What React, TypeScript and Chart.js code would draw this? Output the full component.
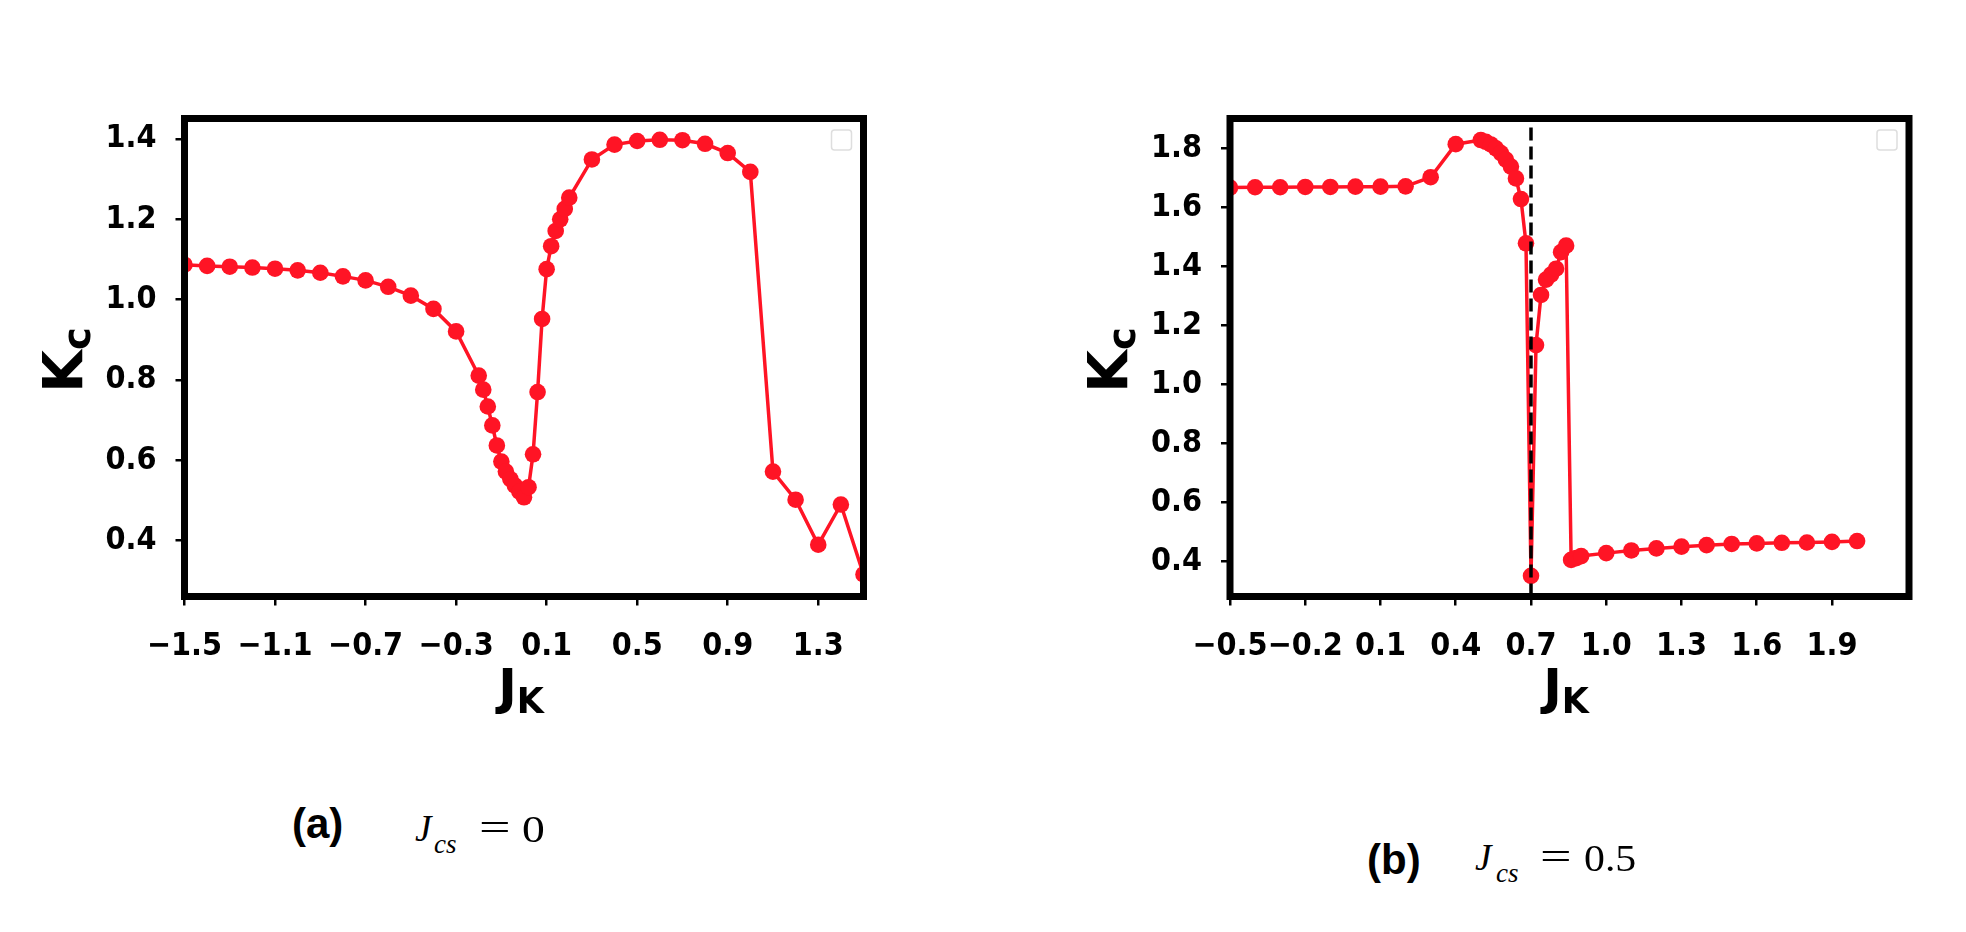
import React, { useEffect, useRef } from "react";
import { Chart, registerables } from "chart.js";

Chart.register(...registerables);

// ---------------- data ----------------
const JK_A = [
  -1.5, -1.4, -1.3, -1.2, -1.1, -1.0, -0.9, -0.8, -0.7, -0.6, -0.5, -0.4, -0.3,
  -0.2, -0.18, -0.16, -0.14, -0.12, -0.1, -0.08, -0.06, -0.04, -0.02, 0.0, 0.02,
  0.04, 0.06, 0.08, 0.1, 0.12, 0.14, 0.16, 0.18, 0.2, 0.3, 0.4, 0.5, 0.6, 0.7,
  0.8, 0.9, 1.0, 1.1, 1.2, 1.3, 1.4, 1.5,
];
const KC_A = [
  1.087, 1.084, 1.082, 1.08, 1.077, 1.073, 1.067, 1.058, 1.048, 1.032, 1.01, 0.977,
  0.921, 0.811, 0.776, 0.734, 0.687, 0.637, 0.597, 0.572, 0.553, 0.537, 0.522,
  0.508, 0.533, 0.615, 0.77, 0.952, 1.076, 1.133, 1.171, 1.2, 1.226, 1.254, 1.349,
  1.386, 1.395, 1.398, 1.397, 1.388, 1.365, 1.318, 0.572, 0.502, 0.39, 0.49, 0.316,
];
const X_TICKS_A = [-1.5, -1.1, -0.7, -0.3, 0.1, 0.5, 0.9, 1.3];
const Y_TICKS_A = [0.4, 0.6, 0.8, 1.0, 1.2, 1.4];
const X_RANGE_A = [-1.5, 1.5];
const Y_RANGE_A = [0.261, 1.451];

const JK_B = [
  -0.5, -0.4, -0.3, -0.2, -0.1, 0.0, 0.1, 0.2, 0.3, 0.4, 0.5, 0.52, 0.54, 0.56,
  0.58, 0.6, 0.62, 0.64, 0.66, 0.68, 0.7, 0.72, 0.74, 0.76, 0.78, 0.8, 0.82, 0.84,
  0.86, 0.88, 0.9, 1.0, 1.1, 1.2, 1.3, 1.4, 1.5, 1.6, 1.7, 1.8, 1.9, 2.0,
];
const KC_B = [
  1.667, 1.668, 1.668, 1.669, 1.669, 1.67, 1.67, 1.671, 1.702, 1.814, 1.828, 1.822,
  1.813, 1.8, 1.784, 1.762, 1.738, 1.698, 1.628, 1.478, 0.351, 1.133, 1.303, 1.355,
  1.372, 1.392, 1.448, 1.47, 0.405, 0.411, 0.418, 0.428, 0.437, 0.444, 0.45, 0.455,
  0.459, 0.461, 0.463, 0.464, 0.466, 0.469,
];
const X_TICKS_B = [-0.5, -0.2, 0.1, 0.4, 0.7, 1.0, 1.3, 1.6, 1.9];
const Y_TICKS_B = [0.4, 0.6, 0.8, 1.0, 1.2, 1.4, 1.6, 1.8];
const X_RANGE_B = [-0.5, 2.207];
const Y_RANGE_B = [0.281, 1.901];
const DASH_X_B = 0.7;

// ---------------- style ----------------
const RED = "#ff1425";
const TICK_FONT = "'DejaVu Sans Condensed', 'DejaVu Sans', sans-serif";
const LABEL_FONT = "'DejaVu Sans', sans-serif";
const CAP_SANS = "'Liberation Sans', Arial, sans-serif";
const CAP_SERIF = "'Liberation Serif', 'Times New Roman', serif";

const CANVAS_W = 860;
const CANVAS_H = 620;
const CANVAS_TOP = 90;
const PAD_TOP = 28.5;
const X_AXIS_H = 113.5;

const fmt = (v: number) => (v < 0 ? "\u2212" : "") + Math.abs(v).toFixed(1);

type PanelProps = {
  xs: number[];
  ys: number[];
  xr: number[];
  yr: number[];
  xt: number[];
  yt: number[];
  dashX?: number;
  left: number;
  yAxisW: number;
  padRight: number;
};

function Panel(p: PanelProps) {
  const ref = useRef<HTMLCanvasElement>(null);
  useEffect(() => {
    const canvas = ref.current as HTMLCanvasElement;
    const datasets: any[] = [];
    if (p.dashX !== undefined) {
      datasets.push({
        data: [
          { x: p.dashX, y: p.yr[0] },
          { x: p.dashX, y: p.yr[1] },
        ],
        borderColor: "#000",
        borderWidth: 3.5,
        borderDash: [13, 6],
        pointRadius: 0,
        fill: false,
        clip: 0,
        order: 0,
      });
    }
    datasets.push({
      data: p.xs.map((x, i) => ({ x, y: p.ys[i] })),
      borderColor: RED,
      backgroundColor: RED,
      pointBackgroundColor: RED,
      pointBorderColor: RED,
      borderWidth: 3.5,
      pointRadius: 8.3,
      pointHoverRadius: 8.3,
      pointBorderWidth: 0,
      tension: 0,
      fill: false,
      clip: 0,
      order: 1,
    });

    const framePlugin = {
      id: "frame",
      afterDraw(chart: any) {
        const { ctx, chartArea: a } = chart;
        ctx.save();
        ctx.strokeStyle = "#000";
        ctx.lineWidth = 7;
        ctx.strokeRect(a.left, a.top, a.right - a.left, a.bottom - a.top);
        ctx.strokeStyle = "#dedede";
        ctx.lineWidth = 1.5;
        ctx.beginPath();
        if ((ctx as any).roundRect) (ctx as any).roundRect(a.right - 32, a.top + 11.5, 20, 20, 3);
        else ctx.rect(a.right - 32, a.top + 11.5, 20, 20);
        ctx.stroke();
        ctx.restore();
      },
    };

    const tickFont = { family: TICK_FONT, size: 32, weight: "bold" as const };
    const grid = {
      display: true,
      drawOnChartArea: false,
      drawTicks: true,
      tickLength: 9,
      color: "#000",
      lineWidth: 2.5,
    };

    const chart = new Chart(canvas, {
      type: "line",
      data: { datasets },
      options: {
        animation: false,
        responsive: false,
        events: [],
        layout: {
          padding: { top: PAD_TOP, right: p.padRight, left: 0, bottom: 0 },
          autoPadding: false,
        },
        plugins: { legend: { display: false }, tooltip: { enabled: false } },
        scales: {
          x: {
            type: "linear",
            min: p.xr[0],
            max: p.xr[1],
            afterFit: (s: any) => {
              s.height = X_AXIS_H;
              s.paddingLeft = 0;
              s.paddingRight = 0;
            },
            afterBuildTicks: (s: any) => {
              s.ticks = p.xt.map((v) => ({ value: v }));
            },
            ticks: {
              callback: (v: any) => fmt(Number(v)),
              font: tickFont,
              color: "#000",
              padding: 22,
              maxRotation: 0,
              autoSkip: false,
            },
            grid,
            border: { display: false },
          },
          y: {
            type: "linear",
            min: p.yr[0],
            max: p.yr[1],
            afterFit: (s: any) => {
              s.width = p.yAxisW;
              s.paddingTop = 0;
              s.paddingBottom = 0;
            },
            afterBuildTicks: (s: any) => {
              s.ticks = p.yt.map((v) => ({ value: v }));
            },
            ticks: {
              callback: (v: any) => fmt(Number(v)),
              font: tickFont,
              color: "#000",
              padding: 19,
              autoSkip: false,
            },
            grid,
            border: { display: false },
          },
        },
      } as any,
      plugins: [framePlugin],
    });
    return () => chart.destroy();
  }, []);
  return (
    <canvas
      ref={ref}
      width={CANVAS_W}
      height={CANVAS_H}
      style={{
        position: "absolute",
        left: p.left - 8,
        top: CANVAS_TOP - 8,
        width: CANVAS_W,
        height: CANVAS_H,
      }}
    />
  );
}

// text placed by its baseline (page coordinates)
function T(props: {
  x: number;
  y: number;
  size: number;
  family: string;
  weight?: number;
  italic?: boolean;
  middle?: boolean;
  sx?: number;
  children: React.ReactNode;
}) {
  const { x, y, size, family, weight, italic, middle, sx, children } = props;
  let tr = "";
  if (middle) tr += "translateX(-50%) ";
  if (sx) tr += `scaleX(${sx})`;
  return (
    <div
      style={{
        position: "absolute",
        left: x - 8,
        top: y - 8 - 0.345 * size,
        fontSize: size,
        fontFamily: family,
        fontWeight: weight ?? 400,
        fontStyle: italic ? "italic" : "normal",
        lineHeight: 0,
        whiteSpace: "nowrap",
        color: "#000",
        transform: tr || undefined,
        transformOrigin: "0 0",
      }}
    >
      {children}
    </div>
  );
}

function Sub({ children, scale = 0.68, drop = 0.3 }: { children: React.ReactNode; scale?: number; drop?: number }) {
  return (
    <span style={{ fontSize: `${scale}em`, position: "relative", top: `${drop / scale}em` }}>{children}</span>
  );
}

function YLabel({ bx, cy }: { bx: number; cy: number }) {
  const size = 55;
  return (
    <div
      style={{
        position: "absolute",
        left: bx - 8,
        top: cy - 8,
        width: 0,
        height: 0,
        transform: "rotate(-90deg)",
        transformOrigin: "0 0",
      }}
    >
      <div
        style={{
          position: "absolute",
          left: 0,
          top: -0.345 * size,
          fontSize: size,
          fontFamily: LABEL_FONT,
          fontWeight: 700,
          lineHeight: 0,
          whiteSpace: "nowrap",
          transform: "translateX(-50%)",
        }}
      >
        K<Sub scale={0.7} drop={0.15}>c</Sub>
      </div>
    </div>
  );
}

export default function App() {
  return (
    <div style={{ position: "relative", width: 1950, height: 916, background: "#fff", overflow: "hidden" }}>
      <Panel
        xs={JK_A}
        ys={KC_A}
        xr={X_RANGE_A}
        yr={Y_RANGE_A}
        xt={X_TICKS_A}
        yt={Y_TICKS_A}
        left={40}
        yAxisW={144.5}
        padRight={36.5}
      />
      <Panel
        xs={JK_B}
        ys={KC_B}
        xr={X_RANGE_B}
        yr={Y_RANGE_B}
        xt={X_TICKS_B}
        yt={Y_TICKS_B}
        dashX={DASH_X_B}
        left={1085}
        yAxisW={145}
        padRight={36}
      />

      <YLabel bx={81.7} cy={360} />
      <YLabel bx={1126.7} cy={360} />

      <T x={521} y={704} size={50} family={LABEL_FONT} weight={700} middle>
        J<Sub scale={0.7} drop={0.18}>K</Sub>
      </T>
      <T x={1566} y={704} size={50} family={LABEL_FONT} weight={700} middle>
        J<Sub scale={0.7} drop={0.18}>K</Sub>
      </T>

      {/* captions */}
      <T x={292} y={838} size={42} family={CAP_SANS} weight={700}>(a)</T>
      <T x={415} y={842} size={37} family={CAP_SERIF} italic>J</T>
      <T x={434} y={853} size={27} family={CAP_SERIF} italic>cs</T>
      <T x={479} y={842} size={40} family={CAP_SERIF} sx={1.4}>=</T>
      <T x={522} y={842} size={38} family={CAP_SERIF} sx={1.2}>0</T>

      <T x={1367} y={874} size={42} family={CAP_SANS} weight={700}>(b)</T>
      <T x={1475} y={871} size={37} family={CAP_SERIF} italic>J</T>
      <T x={1496} y={882} size={27} family={CAP_SERIF} italic>cs</T>
      <T x={1540} y={871} size={40} family={CAP_SERIF} sx={1.4}>=</T>
      <T x={1584} y={871} size={38} family={CAP_SERIF} sx={1.1}>0.5</T>
    </div>
  );
}
